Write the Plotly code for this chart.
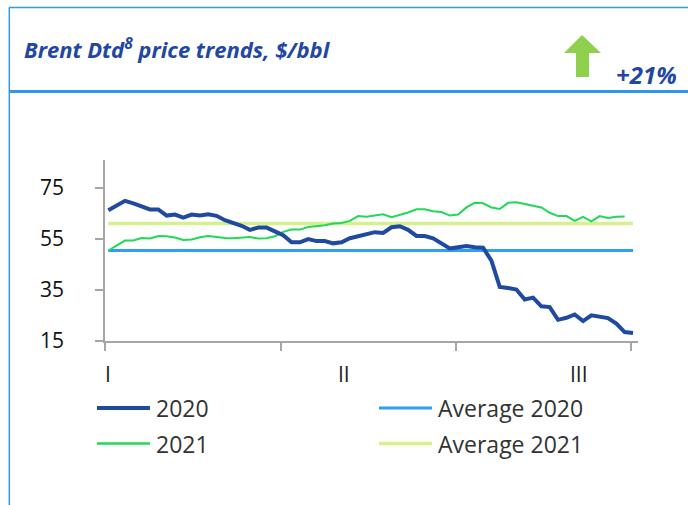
import plotly.graph_objects as go

days = list(range(64))
brent_2020 = [66.3, 68.2, 70.0, 69.0, 67.9, 66.6, 66.6, 64.2, 64.6, 63.4, 64.6, 64.2, 64.7, 64.1,
              62.4, 61.5, 60.2, 58.6, 59.5, 59.5, 57.9, 56.5, 53.7, 53.7, 55.0, 54.2, 54.2, 53.3,
              53.7, 55.3, 56.1, 56.7, 57.7, 57.4, 59.6, 60.0, 58.6, 56.2, 56.2, 55.3, 53.2, 51.3,
              51.8, 52.3, 51.8, 51.6, 46.5, 36.2, 35.8, 35.2, 31.3, 32.0, 28.6, 28.3, 23.3, 24.1,
              25.4, 22.8, 25.1, 24.7, 24.0, 21.8, 18.5, 18.1]
brent_2021 = [50.5, 52.5, 54.4, 54.4, 55.4, 55.2, 56.2, 56.1, 55.6, 54.6, 54.8, 55.7, 56.2, 55.8,
              55.4, 55.3, 55.6, 55.8, 55.2, 55.3, 56.1, 57.8, 58.7, 58.7, 59.7, 60.0, 60.4, 61.1,
              61.3, 62.1, 64.0, 63.7, 64.2, 64.7, 63.6, 64.5, 65.4, 66.7, 66.7, 65.9, 65.6, 64.2,
              64.6, 67.4, 69.2, 69.0, 67.4, 66.8, 69.2, 69.4, 68.7, 68.0, 67.4, 65.3, 64.0, 64.0,
              62.1, 63.7, 61.9, 64.0, 63.3, 63.7, 63.8]
avg_2020 = 50.5
avg_2021 = 61.1
y_ticks = [15, 35, 55, 75]
month_labels = ["I", "II", "III"]
month_label_pos = [0, 28.3, 56.5]
month_ticks = [-0.4, 20.7, 41.7, 62.7]

C2020 = "#1f4aa0"
C2021 = "#22d858"
CA20 = "#2f9ff0"
CA21 = "#d6f08e"
TITLE_C = "#2146a3"
FONT = "Open Sans"

fig = go.Figure()
fig.add_trace(go.Scatter(x=days, y=[avg_2020] * len(days), mode="lines",
                         line=dict(color=CA20, width=3), name="Average 2020", showlegend=False))
fig.add_trace(go.Scatter(x=days, y=[avg_2021] * len(days), mode="lines",
                         line=dict(color=CA21, width=3.5), name="Average 2021", showlegend=False))
fig.add_trace(go.Scatter(x=days[:len(brent_2021)], y=brent_2021, mode="lines",
                         line=dict(color=C2021, width=2), name="2021", showlegend=False))
fig.add_trace(go.Scatter(x=days, y=brent_2020, mode="lines",
                         line=dict(color=C2020, width=4), name="2020", showlegend=False))

W, H = 688, 505
L, R, T, B = 105, 638, 160, 341

def px(x):
    return (x - L) / (R - L)

def py(y):
    return (B - y) / (B - T)

ax = [582, 601, 589, 589, 576, 576, 564]
ay = [35, 53, 53, 77, 77, 53, 53]
shapes = [
    dict(type="line", xref="paper", yref="paper", x0=px(9), x1=px(690), y0=py(7.5), y1=py(7.5),
         line=dict(color="#3399ee", width=1.5)),
    dict(type="line", xref="paper", yref="paper", x0=px(9.3), x1=px(9.3), y0=py(7.5), y1=py(510),
         line=dict(color="#3399ee", width=1.5)),
    dict(type="line", xref="paper", yref="paper", x0=px(9), x1=px(690), y0=py(91.5), y1=py(91.5),
         line=dict(color="#2f96e8", width=3)),
    dict(type="path", xref="paper", yref="paper",
         path="M " + " L ".join(f"{px(a)},{py(b)}" for a, b in zip(ax, ay)) + " Z",
         fillcolor="#8fd14f", line=dict(width=0)),
]

annotations = [
    dict(text="<b><i>Brent Dtd<sup>8</sup> price trends, $/bbl</i></b>", xref="paper", yref="paper",
         x=px(22), y=py(49), xanchor="left", yanchor="middle", showarrow=False,
         font=dict(family=FONT, size=22, color=TITLE_C)),
    dict(text="<b><i>+21%</i></b>", xref="paper", yref="paper",
         x=px(679), y=py(74), xanchor="right", yanchor="middle", showarrow=False,
         font=dict(family=FONT, size=24, color=TITLE_C)),
]
for lab, pos in zip(month_labels, month_label_pos):
    annotations.append(dict(text=lab, xref="x", yref="paper", x=pos, y=py(374),
                            xanchor="center", yanchor="middle", showarrow=False,
                            font=dict(family=FONT, size=21, color="#222222")))

legend_items = [("2020", C2020, 4, 97, 408), ("Average 2020", CA20, 3, 379, 408),
                ("2021", C2021, 2.5, 97, 443.5), ("Average 2021", CA21, 3.5, 379, 443.5)]
for name, col, wd, x0, yy in legend_items:
    shapes.append(dict(type="line", xref="paper", yref="paper", x0=px(x0), x1=px(x0 + 53),
                       y0=py(yy), y1=py(yy), line=dict(color=col, width=wd)))
    annotations.append(dict(text=name, xref="paper", yref="paper", x=px(x0 + 57), y=py(yy),
                            xanchor="left", yanchor="middle", showarrow=False,
                            font=dict(family=FONT, size=23, color="#333333")))

fig.update_layout(
    width=W, height=H,
    margin=dict(l=L, r=W - R, t=T, b=H - B, pad=0),
    paper_bgcolor="white", plot_bgcolor="white",
    shapes=shapes, annotations=annotations,
    showlegend=False,
    font=dict(family=FONT, size=20, color="#222222"),
)
fig.update_xaxes(range=[-0.4, 63.6], showgrid=False, zeroline=False, showline=True,
                 linecolor="#a6a6a6", linewidth=1.5, tickmode="array", tickvals=month_ticks,
                 showticklabels=False, ticks="outside", ticklen=8, tickcolor="#a6a6a6",
                 tickwidth=1.5)
fig.update_yaxes(range=[15, 86], showgrid=False, zeroline=False, showline=True,
                 linecolor="#a6a6a6", linewidth=1.5, tickmode="array", tickvals=y_ticks,
                 ticks="outside", ticklen=8, tickcolor="#a6a6a6", tickwidth=1.5,
                 ticklabelstandoff=27,
                 tickfont=dict(family=FONT, size=21, color="#111111"))

fig.write_html("out.html", config={"displayModeBar": False},
               post_script="document.body.style.margin='0';document.body.style.padding='0';")
